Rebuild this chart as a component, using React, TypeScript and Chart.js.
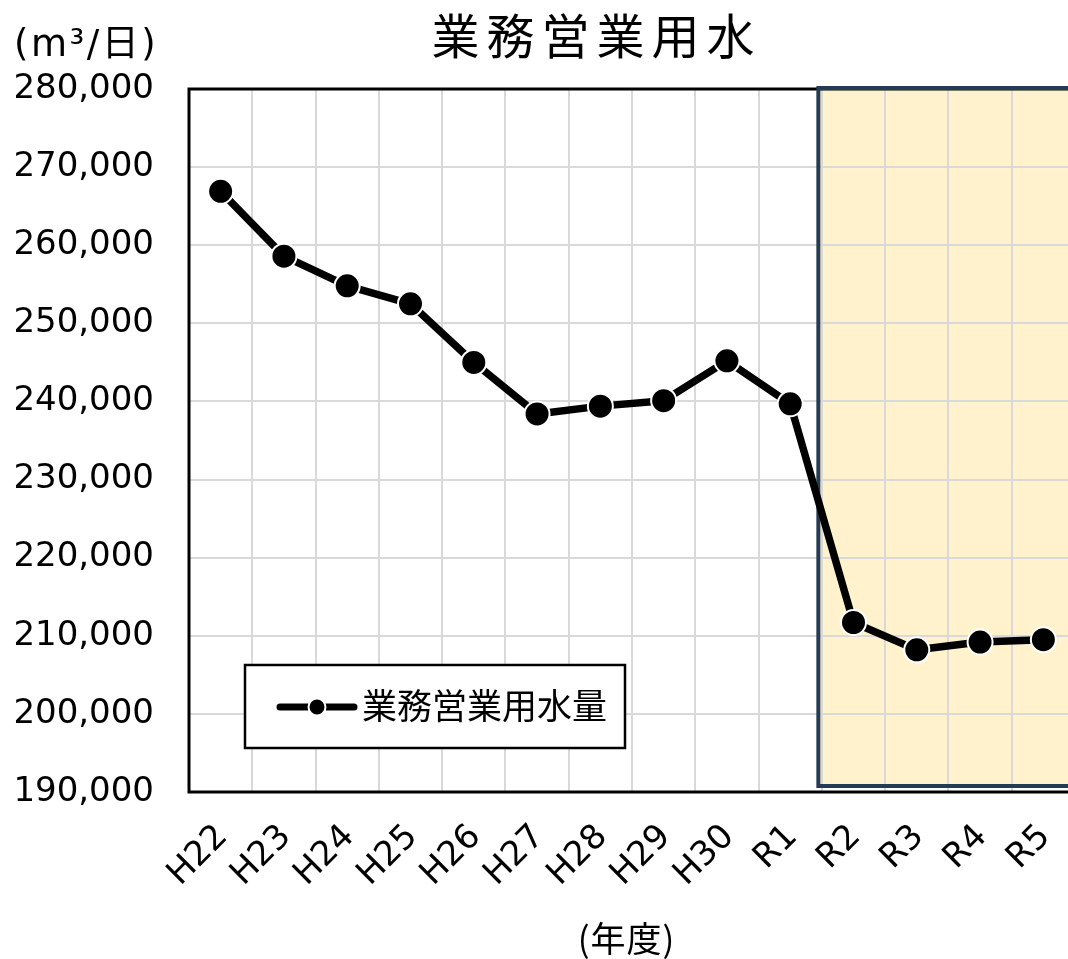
import { useEffect, useRef } from "react";
import { Chart, registerables } from "chart.js";

Chart.register(...registerables);

const categories = ["H22", "H23", "H24", "H25", "H26", "H27", "H28", "H29", "H30", "R1", "R2", "R3", "R4", "R5"];
const values = [266900, 258600, 254800, 252500, 245000, 238400, 239400, 240100, 245200, 239700, 211700, 208200, 209200, 209500];
const yMin = 190000;
const yMax = 280000;
const yStep = 10000;
const seriesName = "業務営業用水量";
const chartTitle = "業務営業用水";
const yUnitLabel = "(m³/日)";
const xAxisLabel = "(年度)";
const highlightStart = "R2";

const CJK = '"Noto Sans CJK JP", "Noto Sans CJK SC", sans-serif';
const LATIN = '"DejaVu Sans", "Noto Sans CJK JP", sans-serif';

function drawSpaced(
  ctx: CanvasRenderingContext2D,
  text: string,
  x: number,
  y: number,
  font: string,
  spacing: number,
  align: "left" | "center"
) {
  ctx.save();
  ctx.font = font;
  ctx.textBaseline = "middle";
  ctx.textAlign = "left";
  ctx.fillStyle = "#000";
  const chars = Array.from(text);
  const widths = chars.map((c) => ctx.measureText(c).width);
  const total = widths.reduce((a, b) => a + b, 0) + spacing * (chars.length - 1);
  let cx = align === "center" ? x - total / 2 : x;
  chars.forEach((c, i) => {
    ctx.fillText(c, cx, y);
    cx += widths[i] + spacing;
  });
  ctx.restore();
}

const decorPlugin = {
  id: "decor",
  beforeDraw(chart: any) {
    const { ctx, chartArea } = chart;
    const x = chart.scales.x;
    const idx = categories.indexOf(highlightStart);
    const left = x.getPixelForValue(idx - 0.5) - 3.5;
    ctx.save();
    ctx.fillStyle = "#FFF2CC";
    ctx.fillRect(left, chartArea.top, chartArea.right + 20 - left, chartArea.bottom - 6 - chartArea.top);
    ctx.restore();
  },
  beforeDatasetsDraw(chart: any) {
    const { ctx, chartArea } = chart;
    const x = chart.scales.x;
    const idx = categories.indexOf(highlightStart);
    const left = x.getPixelForValue(idx - 0.5) - 3.5;
    ctx.save();
    ctx.strokeStyle = "#000";
    ctx.lineWidth = 3;
    ctx.strokeRect(chartArea.left, chartArea.top, chartArea.right - chartArea.left + 10, chartArea.bottom - chartArea.top);
    ctx.strokeStyle = "#243B55";
    ctx.lineWidth = 4;
    ctx.strokeRect(left, chartArea.top - 1, chartArea.right + 20 - left, chartArea.bottom - 6 - chartArea.top + 1);
    ctx.restore();
  },
  afterDraw(chart: any) {
    const { ctx } = chart;
    drawSpaced(ctx, chartTitle, 593, 36, `48px ${CJK}`, 7, "center");
    drawSpaced(ctx, yUnitLabel, 14, 46, `37px ${LATIN}`, 2.5, "left");
    drawSpaced(ctx, xAxisLabel, 626, 939, `35px ${CJK}`, 1, "center");

    // legend
    ctx.save();
    ctx.fillStyle = "#fff";
    ctx.fillRect(245, 665, 380, 83);
    ctx.strokeStyle = "#000";
    ctx.lineWidth = 2.5;
    ctx.strokeRect(245, 665, 380, 83);
    ctx.strokeStyle = "#000";
    ctx.lineWidth = 7;
    ctx.lineCap = "round";
    ctx.beginPath();
    ctx.moveTo(280, 707);
    ctx.lineTo(354, 707);
    ctx.stroke();
    ctx.beginPath();
    ctx.arc(317, 707, 8.5, 0, Math.PI * 2);
    ctx.fillStyle = "#000";
    ctx.fill();
    ctx.strokeStyle = "#fff";
    ctx.lineWidth = 2;
    ctx.stroke();
    ctx.restore();
    drawSpaced(ctx, seriesName, 362, 706, `35px ${CJK}`, 0, "left");
  },
};

export default function App() {
  const ref = useRef<HTMLCanvasElement | null>(null);

  useEffect(() => {
    if (!ref.current) return;
    const chart = new Chart(ref.current, {
      type: "line",
      data: {
        labels: categories,
        datasets: [
          {
            label: seriesName,
            data: values,
            borderColor: "#000",
            backgroundColor: "#000",
            borderWidth: 7.5,
            borderJoinStyle: "round",
            borderCapStyle: "round",
            pointRadius: 12.5,
            pointHoverRadius: 12.5,
            pointBackgroundColor: "#000",
            pointBorderColor: "#fff",
            pointBorderWidth: 2,
            tension: 0,
            clip: false as any,
          },
        ],
      },
      options: {
        responsive: false,
        animation: false,
        devicePixelRatio: 1,
        layout: { autoPadding: false, padding: { top: 89, right: 5, left: 0, bottom: 0 } },
        plugins: {
          legend: { display: false },
          title: { display: false },
          tooltip: { enabled: false },
        },
        scales: {
          x: {
            type: "category",
            offset: true,
            grid: { offset: true, color: "#D9D9D9", lineWidth: 2, drawTicks: false },
            border: { display: false },
            ticks: {
              autoSkip: false,
              maxRotation: 45,
              minRotation: 45,
              padding: 25,
              labelOffset: 2,
              color: "#000",
              font: { family: LATIN, size: 34 },
            },
            afterFit: (scale: any) => {
              scale.height = 167;
              scale.paddingLeft = 0;
              scale.paddingRight = 0;
            },
          },
          y: {
            type: "linear",
            min: yMin,
            max: yMax,
            grid: { color: "#D9D9D9", lineWidth: 2, drawTicks: false },
            border: { display: false },
            ticks: {
              stepSize: yStep,
              padding: 35,
              color: "#000",
              font: { family: LATIN, size: 34 },
              callback: (v: any) => Number(v).toLocaleString("en-US"),
            },
            afterFit: (scale: any) => {
              scale.width = 189;
              scale.paddingTop = 0;
              scale.paddingBottom = 0;
            },
          },
        },
      },
      plugins: [decorPlugin],
    });
    return () => chart.destroy();
  }, []);

  return (
    <div
      style={{
        position: "fixed",
        left: 0,
        top: 0,
        width: 1068,
        height: 959,
        overflow: "hidden",
        background: "#fff",
      }}
    >
      <div style={{ width: 1080, height: 959 }}>
        <canvas ref={ref} width={1080} height={959} style={{ display: "block", width: 1080, height: 959 }} />
      </div>
    </div>
  );
}
